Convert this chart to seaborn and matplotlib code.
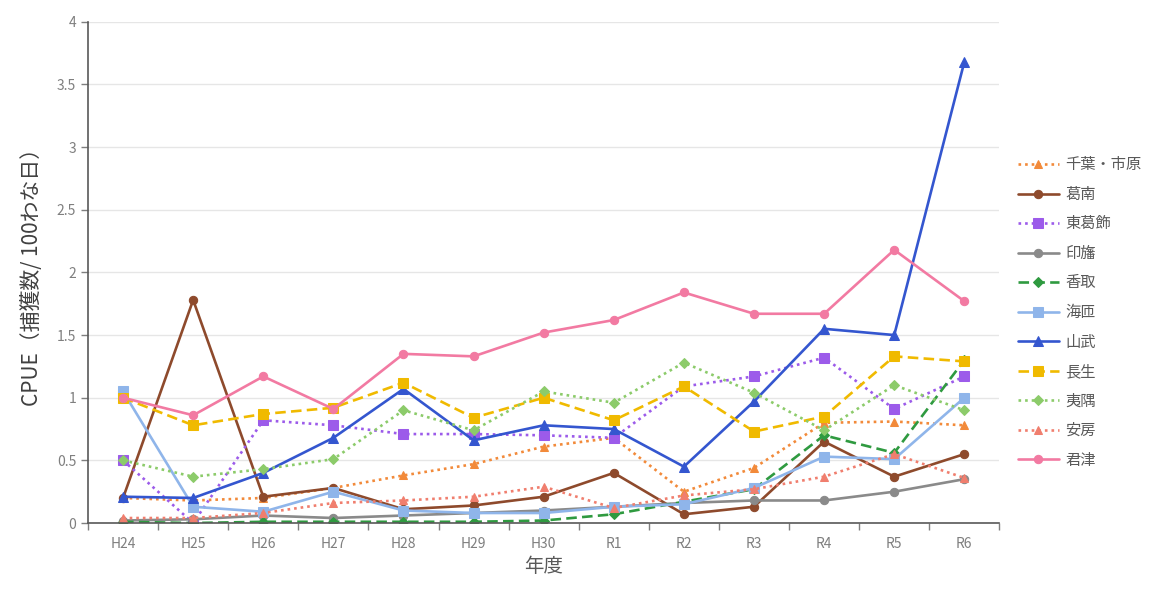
import matplotlib
matplotlib.use("Agg")
import matplotlib.pyplot as plt
import seaborn as sns
import numpy as np
import pandas as pd
from matplotlib.ticker import FixedLocator

years = ["H24", "H25", "H26", "H27", "H28", "H29", "H30", "R1", "R2", "R3", "R4", "R5", "R6"]

chiba_ichihara = [0.20, 0.18, 0.20, 0.28, 0.38, 0.47, 0.61, 0.68, 0.25, 0.44, 0.80, 0.81, 0.78]
katsunan = [0.20, 1.78, 0.21, 0.28, 0.11, 0.14, 0.21, 0.40, 0.07, 0.13, 0.65, 0.37, 0.55]
higashikatsushika = [0.50, 0.00, 0.82, 0.78, 0.71, 0.71, 0.70, 0.68, 1.09, 1.17, 1.32, 0.91, 1.17]
inba = [0.02, 0.03, 0.06, 0.04, 0.06, 0.08, 0.10, 0.13, 0.16, 0.18, 0.18, 0.25, 0.35]
katori = [0.01, 0.00, 0.01, 0.01, 0.01, 0.01, 0.02, 0.07, 0.17, 0.27, 0.70, 0.56, 1.30]
kaiso = [1.05, 0.13, 0.09, 0.25, 0.10, 0.08, 0.08, 0.13, 0.15, 0.28, 0.53, 0.51, 1.00]
sanbu = [0.21, 0.20, 0.40, 0.68, 1.07, 0.66, 0.78, 0.75, 0.45, 0.97, 1.55, 1.50, 3.68]
chosei = [1.00, 0.78, 0.87, 0.92, 1.12, 0.84, 1.00, 0.82, 1.09, 0.73, 0.85, 1.33, 1.29]
isumi = [0.50, 0.37, 0.43, 0.51, 0.90, 0.74, 1.05, 0.96, 1.28, 1.04, 0.74, 1.10, 0.90]
awa = [0.04, 0.04, 0.08, 0.16, 0.18, 0.21, 0.29, 0.12, 0.22, 0.27, 0.37, 0.55, 0.36]
kimitsu = [1.00, 0.86, 1.17, 0.91, 1.35, 1.33, 1.52, 1.62, 1.84, 1.67, 1.67, 2.18, 1.77]

series_names = ["千葉・市原", "葛南", "東葛飾", "印旛", "香取", "海匝", "山武", "長生", "夷隅", "安房", "君津"]
series_values = [chiba_ichihara, katsunan, higashikatsushika, inba, katori, kaiso,
                 sanbu, chosei, isumi, awa, kimitsu]

colors = ["#F28A3A", "#8E4A2C", "#9C5BEA", "#8A8A8A", "#2F9A40", "#8FB5EA",
          "#3456CF", "#F0BA00", "#8CCB6A", "#F07E6E", "#F27AA2"]
dashes = [(1, 1.5), "", (1, 1.5), "", (4, 2), "", "", (4, 2), (1, 1.5), (1, 1.5), ""]
markers = ["^", "o", "s", "o", "D", "s", "^", "s", "D", "^", "o"]
msizes = [6, 6, 7.5, 6, 5, 7.5, 7, 7.5, 5, 6, 6]

sns.set_theme(style="white")
plt.rcParams["font.family"] = ["Noto Sans CJK JP", "DejaVu Sans"]

fig = plt.figure(figsize=(11.61, 5.89), dpi=100)
ax = fig.add_axes([0.0758, 0.112, 0.785, 0.851])

x = np.arange(len(years))
for name, vals, c, d, m, ms in zip(series_names, series_values, colors, dashes, markers, msizes):
    df = pd.DataFrame({"x": x, "y": vals})
    sns.lineplot(data=df, x="x", y="y", ax=ax, color=c, marker=m, markersize=ms,
                 markeredgecolor=c, linewidth=1.9, dashes=False, label=name)
    line = ax.lines[-1]
    if d:
        line.set_dashes(d)

ax.set_xlim(-0.5, len(years) - 0.5)
ax.set_ylim(0, 4)
ax.set_yticks(np.arange(0, 4.01, 0.5))
ax.set_yticklabels(["0", "0.5", "1", "1.5", "2", "2.5", "3", "3.5", "4"])
ax.set_xticks(x)
ax.set_xticklabels(years)
ax.xaxis.set_minor_locator(FixedLocator(np.arange(-0.5, len(years), 1.0)))
ax.tick_params(axis="x", which="major", length=0, pad=10, colors="#7F7F7F", labelsize=10)
ax.tick_params(axis="x", which="minor", length=5, width=1, color="#7F7F7F", direction="out", bottom=True)
ax.tick_params(axis="y", which="major", length=5, width=1, color="#7F7F7F", direction="out",
               left=True, colors="#7F7F7F", labelsize=10)
ax.grid(axis="y", color="#E6E6E6", linewidth=1)
ax.set_axisbelow(True)
for s in ["top", "right"]:
    ax.spines[s].set_visible(False)
for s in ["left", "bottom"]:
    ax.spines[s].set_color("#595959")
    ax.spines[s].set_linewidth(1.2)

ax.set_xlabel("年度", fontsize=14, color="#595959", labelpad=4)
ax.set_ylabel("CPUE（捕獲数/ 100わな日）", fontsize=15, color="#404040", labelpad=10)

leg = ax.legend(loc="center left", bbox_to_anchor=(1.005, 0.42), frameon=False,
                fontsize=11, labelspacing=0.82, handlelength=2.7, handletextpad=0.4)
for t in leg.get_texts():
    t.set_color("#595959")

fig.savefig("out.png", dpi=100)
